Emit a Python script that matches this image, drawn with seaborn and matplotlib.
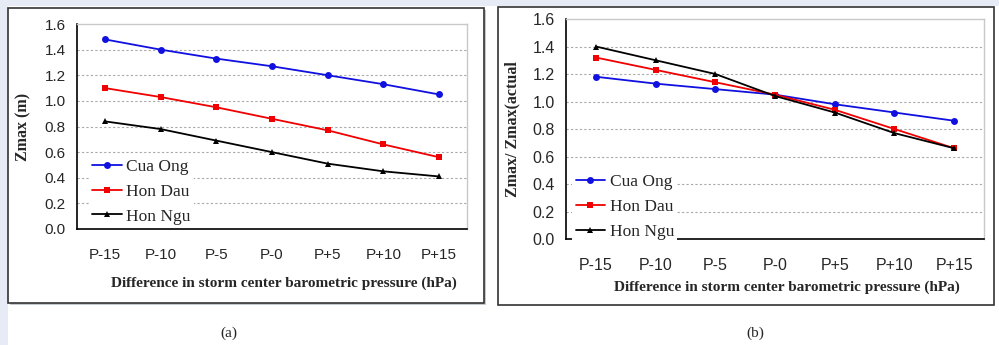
import numpy as np
import pandas as pd
import matplotlib
matplotlib.use("Agg")
import matplotlib.pyplot as plt
from matplotlib.patches import Rectangle
import seaborn as sns

# Data
categories = ["P-15", "P-10", "P-5", "P-0", "P+5", "P+10", "P+15"]
stations = ["Cua Ong", "Hon Dau", "Hon Ngu"]

zmax_cua_ong = [1.48, 1.40, 1.33, 1.27, 1.20, 1.13, 1.05]
zmax_hon_dau = [1.10, 1.03, 0.95, 0.86, 0.77, 0.66, 0.56]
zmax_hon_ngu = [0.84, 0.78, 0.69, 0.60, 0.51, 0.45, 0.41]

ratio_cua_ong = [1.18, 1.13, 1.09, 1.05, 0.98, 0.92, 0.86]
ratio_hon_dau = [1.32, 1.23, 1.14, 1.05, 0.94, 0.80, 0.66]
ratio_hon_ngu = [1.40, 1.30, 1.20, 1.04, 0.92, 0.77, 0.66]

y_ticks = [0.0, 0.2, 0.4, 0.6, 0.8, 1.0, 1.2, 1.4, 1.6]

colors = {"Cua Ong": "#1010e0", "Hon Dau": "#f00000", "Hon Ngu": "#000000"}
markers = {"Cua Ong": "o", "Hon Dau": "s", "Hon Ngu": "^"}


def make_frame(series):
    rows = []
    for name, vals in zip(stations, series):
        for i, v in enumerate(vals):
            rows.append({"idx": i, "value": v, "station": name})
    return pd.DataFrame(rows)


df_a = make_frame([zmax_cua_ong, zmax_hon_dau, zmax_hon_ngu])
df_b = make_frame([ratio_cua_ong, ratio_hon_dau, ratio_hon_ngu])

sns.set_style("white")
plt.rcParams["font.family"] = ["Liberation Sans", "DejaVu Sans"]
SERIF = ["Liberation Serif", "DejaVu Serif"]

W, H = 999, 345
fig = plt.figure(figsize=(W / 100, H / 100), dpi=100)
fig.patch.set_facecolor("white")


def px_rect(x0, y0, x1, y1, **kw):
    # rectangle given in pixel coords (top-left origin)
    r = Rectangle((x0 / W, 1 - y1 / H), (x1 - x0) / W, (y1 - y0) / H,
                  transform=fig.transFigure, **kw)
    fig.patches.append(r)


# page background strips and panel frames
px_rect(0, 0, W, 6, facecolor="#e6ebf5", edgecolor="none", zorder=0)
px_rect(0, 0, 8, H, facecolor="#e6ebf5", edgecolor="none", zorder=0)
px_rect(10, 10, 486, 305, facecolor="#c4c8d0", edgecolor="none", zorder=0)
px_rect(8, 8, 484, 303, facecolor="white", edgecolor="#333333", linewidth=1.2, zorder=1)
px_rect(498, 7, 994, 305, facecolor="white", edgecolor="#333333", linewidth=1.2, zorder=1)


def draw_panel(rect, df, ylabel, tick_fs, xlab_y, ylab_x, leg_anchor):
    ax = fig.add_axes(rect)
    ax.set_zorder(2)
    ax.patch.set_alpha(0)
    sns.lineplot(data=df, x="idx", y="value", hue="station", style="station",
                 palette=colors, markers=markers, dashes=False,
                 markersize=5, linewidth=1.3, markeredgewidth=0, ax=ax)
    ax.set_xlim(-0.5, 6.5)
    ax.set_ylim(0, 1.6)
    ax.set_yticks(y_ticks)
    ax.set_yticklabels([f"{t:.1f}" for t in y_ticks], fontsize=tick_fs)
    # category boundaries as major ticks, labels at centres
    ax.set_xticks(np.arange(-0.5, 7, 1.0))
    ax.set_xticklabels([])
    ax.set_xticks(np.arange(7), minor=True)
    ax.set_xticklabels(categories, minor=True, fontsize=tick_fs)
    ax.tick_params(axis="x", which="major", length=5, width=1, color="black", direction="out")
    ax.tick_params(axis="x", which="minor", length=0, pad=14)
    ax.tick_params(axis="y", length=5, width=1, color="black", direction="out", pad=3)
    for t in y_ticks[1:-1]:
        ax.axhline(t, color="#a8a8a8", linestyle=(0, (2, 2)), linewidth=0.8, zorder=0)
    for side in ["left", "bottom"]:
        ax.spines[side].set_color("black")
        ax.spines[side].set_linewidth(1.2)
    for side in ["top", "right"]:
        ax.spines[side].set_color("#c8c8c8")
        ax.spines[side].set_linewidth(1.0)
    ax.set_xlabel("")
    ax.set_ylabel("")
    fig.text(rect[0] + rect[2] / 2 + 0.012, xlab_y,
             "Difference in storm center barometric pressure (hPa)",
             ha="center", va="center", fontsize=11, fontweight="bold", family=SERIF)
    fig.text(ylab_x, rect[1] + rect[3] / 2, ylabel, rotation=90,
             ha="center", va="center", fontsize=11.5, fontweight="bold", family=SERIF)
    leg = ax.legend(loc="lower left", bbox_to_anchor=leg_anchor, frameon=True,
                    prop={"family": SERIF, "size": 12.5},
                    handlelength=1.7, handletextpad=0.25, labelspacing=0.5,
                    borderpad=0.2, borderaxespad=0)
    leg.get_frame().set_facecolor("white")
    leg.get_frame().set_edgecolor("none")
    leg.get_frame().set_alpha(1)
    return ax


draw_panel([77 / W, 1 - 229 / H, 390 / W, 205 / H], df_a, "Zmax (m)", 11,
           1 - 283 / H, 23 / W, (0.03, 0.005))
draw_panel([566 / W, 1 - 239 / H, 418 / W, 220 / H], df_b, "Zmax/ Zmax(actual", 11.5,
           1 - 287 / H, 512 / W, (0.015, -0.02))

fig.text(229 / W, 1 - 333 / H, "(a)", ha="center", va="center", fontsize=11, family=SERIF)
fig.text(755 / W, 1 - 333 / H, "(b)", ha="center", va="center", fontsize=11, family=SERIF)

fig.savefig("out.png", dpi=100)
